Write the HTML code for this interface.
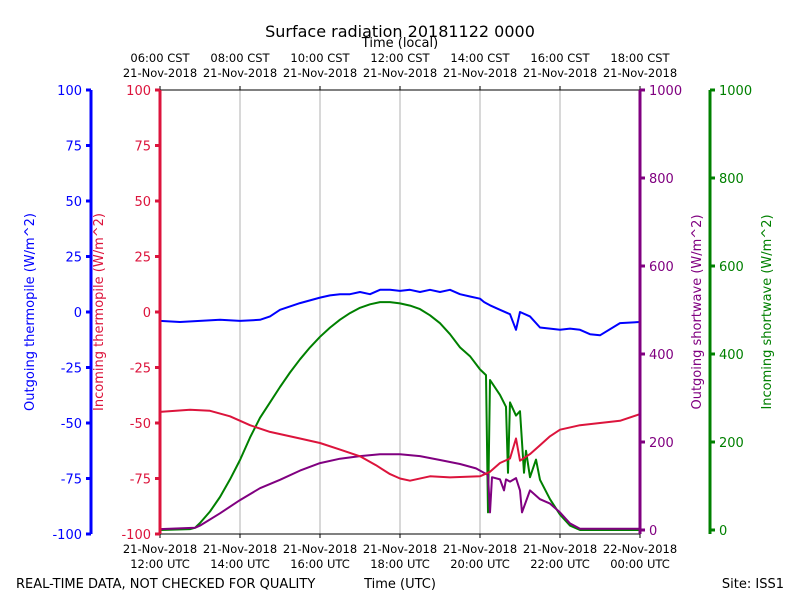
<!DOCTYPE html>
<html><head><meta charset="utf-8"><style>
body{margin:0;background:#fff;}
svg text{font-family:"DejaVu Sans","Liberation Sans",sans-serif;}
</style></head><body>
<svg id="chart" width="800" height="600" xmlns="http://www.w3.org/2000/svg">
<text x="400" y="37" font-size="16" text-anchor="middle">Surface radiation 20181122 0000</text>
<text x="400" y="47" font-size="13" text-anchor="middle">Time (local)</text>
<g id="grid"></g>
<g id="series"></g>
<g id="axes"></g>
<text transform="translate(34,312) rotate(-90)" font-size="13" fill="#0000ff" text-anchor="middle">Outgoing thermopile (W/m^2)</text>
<text transform="translate(103,312) rotate(-90)" font-size="13" fill="#dc143c" text-anchor="middle">Incoming thermopile (W/m^2)</text>
<text transform="translate(701,312) rotate(-90)" font-size="13" fill="#800080" text-anchor="middle">Outgoing shortwave (W/m^2)</text>
<text transform="translate(771,312) rotate(-90)" font-size="13" fill="#008000" text-anchor="middle">Incoming shortwave (W/m^2)</text>
<text x="16" y="588" font-size="13">REAL-TIME DATA, NOT CHECKED FOR QUALITY</text>
<text x="400" y="588" font-size="13" text-anchor="middle">Time (UTC)</text>
<text x="784" y="588" font-size="13" text-anchor="end">Site: ISS1</text>
</svg>
<script>
const hourTicks=[0,2,4,6,8,10,12];
const utcLabels=["12:00 UTC","14:00 UTC","16:00 UTC","18:00 UTC","20:00 UTC","22:00 UTC","00:00 UTC"];
const utcDates=["21-Nov-2018","21-Nov-2018","21-Nov-2018","21-Nov-2018","21-Nov-2018","21-Nov-2018","22-Nov-2018"];
const cstLabels=["06:00 CST","08:00 CST","10:00 CST","12:00 CST","14:00 CST","16:00 CST","18:00 CST"];
const cstDates=["21-Nov-2018","21-Nov-2018","21-Nov-2018","21-Nov-2018","21-Nov-2018","21-Nov-2018","21-Nov-2018"];
const thermoTicks=[-100,-75,-50,-25,0,25,50,75,100];
const swTicks=[0,200,400,600,800,1000];
// series: hours since 12 UTC
const outThermoT=[0,0.5,1,1.5,2,2.5,2.75,3,3.5,4,4.25,4.5,4.75,5,5.25,5.5,5.75,6,6.25,6.5,6.75,7,7.25,7.5,7.75,8,8.1,8.15,8.25,8.5,8.75,8.9,9,9.25,9.5,10,10.25,10.5,10.75,11,11.5,12];
const outThermoV=[-4,-4.5,-4,-3.5,-4,-3.5,-2,1,4,6.5,7.5,8,8,9,8,10,10,9.5,10,9,10,9,10,8,7,6,4.5,4,3,1,-1,-8,0,-2,-7,-8,-7.5,-8,-10,-10.5,-5,-4.5];
const inThermoT=[0,0.75,1.25,1.75,2.25,2.75,3.5,4,4.5,5,5.4,5.75,6,6.25,6.75,7.25,8,8.25,8.5,8.75,8.9,9,9.25,9.5,9.75,10,10.5,11,11.5,12];
const inThermoV=[-45,-44,-44.5,-47,-51,-54,-57,-59,-62,-65,-69,-73,-75,-76,-74,-74.5,-74,-72,-68,-66,-57,-67,-64,-60,-56,-53,-51,-50,-49,-46];
const outSwT=[0,0.875,1,1.5,2,2.5,3,3.5,4,4.5,5,5.5,6,6.5,7,7.5,7.9,8.2,8.25,8.3,8.5,8.6,8.65,8.75,8.9,9,9.05,9.25,9.5,9.75,10,10.25,10.5,12];
const outSwV=[2,5,10,38,68,95,114,135,152,162,168,172,172,168,159,150,140,125,40,120,115,90,115,110,118,90,40,90,70,60,40,15,3,3];
const inSwT=[0,0.75,0.875,1,1.25,1.5,1.75,2,2.25,2.5,2.75,3,3.25,3.5,3.75,4,4.25,4.5,4.75,5,5.25,5.5,5.75,6,6.25,6.5,6.75,7,7.25,7.5,7.75,8,8.15,8.2,8.25,8.5,8.65,8.7,8.75,8.9,9,9.1,9.15,9.25,9.4,9.5,9.75,10,10.25,10.5,12];
const inSwV=[0,2,5,16,42,75,115,159,210,255,290,325,358,388,415,439,460,478,493,505,513,518,518,515,510,502,488,470,445,415,395,365,352,40,341,307,280,130,290,260,270,130,180,120,160,114,70,35,10,0,0];

const X0=160,X1=640,Y0=90,Y1=534,SW0=530;
const xs=h=>X0+(X1-X0)*h/12;
const yT=v=>312-v*2.22;
const yS=v=>SW0-v*0.44;
const NS="http://www.w3.org/2000/svg";
function mk(tag,attrs,parent){const e=document.createElementNS(NS,tag);for(const k in attrs)e.setAttribute(k,attrs[k]);parent.appendChild(e);return e;}
const grid=document.getElementById('grid'),ser=document.getElementById('series'),ax=document.getElementById('axes');
hourTicks.forEach((h,i)=>{
  if(i>0&&i<hourTicks.length-1){const g=mk('line',{x1:xs(h),x2:xs(h),y1:Y0,y2:Y1,stroke:'#b0b0b0','stroke-width':1},grid);
  
  }
  const tb=mk('line',{x1:xs(h),x2:xs(h),y1:Y1,y2:Y1+4,stroke:'#000'},ax);
  
  
  const tt=mk('line',{x1:xs(h),x2:xs(h),y1:Y0,y2:Y0-4,stroke:'#000'},ax);
  
  
  [[utcDates[i],553],[utcLabels[i],568],[cstLabels[i],62],[cstDates[i],77]].forEach(([s,y],j)=>{
    const t=mk('text',{x:xs(h),y:y,'font-size':11.5,'text-anchor':'middle'},ax);t.textContent=s;
    
    
  });
});
function line(T,V,yf,color,name){
  const d=T.map((t,i)=>(i?'L':'M')+xs(t).toFixed(1)+','+yf(V[i]).toFixed(1)).join('');
  const p=mk('path',{d:d,fill:'none',stroke:color,'stroke-width':2,'stroke-linejoin':'round'},ser);
  
  
}
line(inSwT,inSwV,yS,'#008000','incoming-shortwave-line');
line(outSwT,outSwV,yS,'#800080','outgoing-shortwave-line');
line(inThermoT,inThermoV,yT,'#dc143c','incoming-thermopile-line');
line(outThermoT,outThermoV,yT,'#0000ff','outgoing-thermopile-line');
const fr1=mk('line',{x1:X0,x2:X1,y1:Y0,y2:Y0,stroke:'#000'},ax);


const fr2=mk('line',{x1:X0,x2:X1,y1:Y1,y2:Y1,stroke:'#000'},ax);


function vaxis(x,ticks,yf,color,side,name){
  const s=mk('line',{x1:x,x2:x,y1:Y0,y2:Y1,stroke:color,'stroke-width':3},ax);
  
  
  ticks.forEach(v=>{
    const y=yf(v);
    const tk=mk('line',{x1:x,x2:x+side*5,y1:y,y2:y,stroke:color,'stroke-width':3},ax);
    
    
    const t=mk('text',{x:x+side*9,y:y+5,'font-size':13,fill:color,'text-anchor':side<0?'end':'start'},ax);
    t.textContent=v;
    
    
  });
}
vaxis(91,thermoTicks,yT,'#0000ff',-1,'outgoing-thermopile-axis');
vaxis(160,thermoTicks,yT,'#dc143c',-1,'incoming-thermopile-axis');
vaxis(640,swTicks,yS,'#800080',1,'outgoing-shortwave-axis');
vaxis(710,swTicks,yS,'#008000',1,'incoming-shortwave-axis');
</script>
</body></html>
